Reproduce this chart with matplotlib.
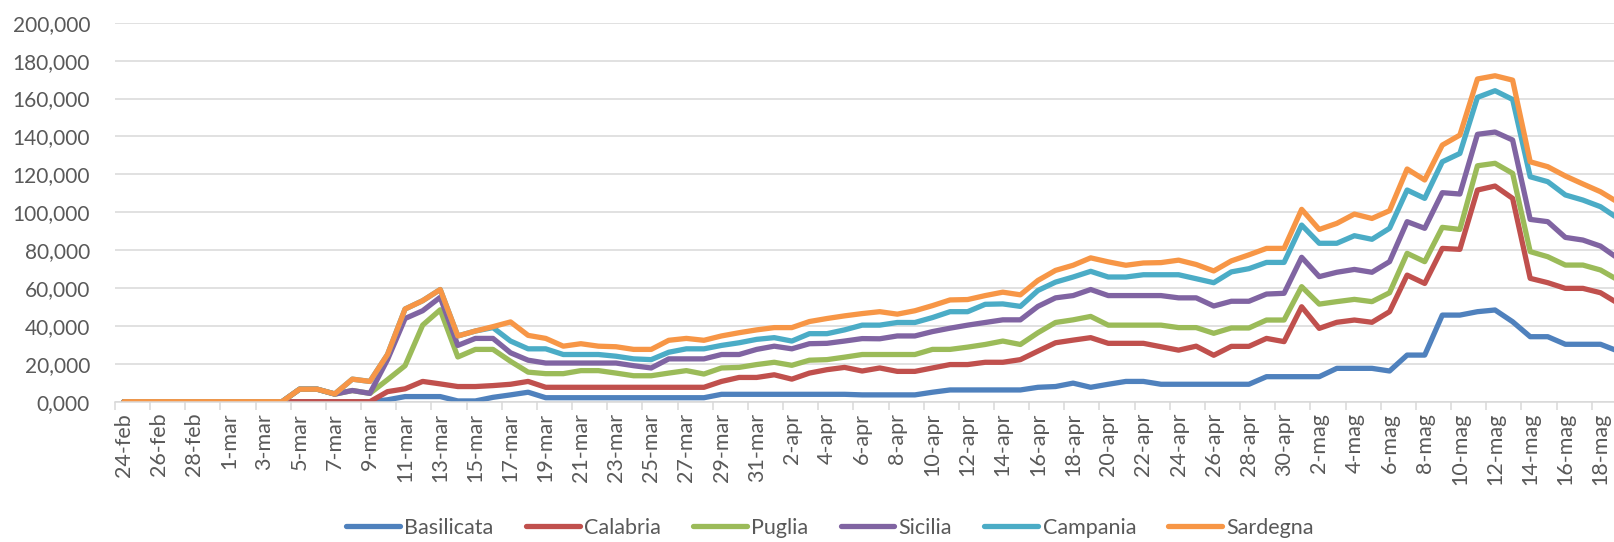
import numpy as np
import pandas as pd
import matplotlib
matplotlib.use("Agg")
import matplotlib.pyplot as plt

# ==========================
# Dati (valori per regione, grafico a linee in pila)
# ==========================
mesi = {2: "feb", 3: "mar", 4: "apr", 5: "mag"}
giorni = pd.date_range("2020-02-24", "2020-05-19", freq="D")
date_labels = [f"{d.day}-{mesi[d.month]}" for d in giorni]

regioni = ["Basilicata", "Calabria", "Puglia", "Sicilia", "Campania", "Sardegna"]
colori = ["#4F81BD", "#C0504D", "#9BBB59", "#8064A2", "#4BACC6", "#F79646"]

basilicata = [
    0, 0, 0, 0, 0, 0, 0, 0, 0, 0,
    0, 0, 0, 0, 0, 1.0, 2.7, 2.7, 2.7, 0.4,
    0.4, 2.3, 3.6, 5.0, 2.1, 2.1, 2.1, 2.1, 2.1, 2.1,
    2.1, 2.1, 2.1, 2.1, 3.9, 3.9, 3.9, 3.9, 3.9, 3.9,
    3.9, 3.9, 3.6, 3.6, 3.6, 3.6, 5.0, 6.2, 6.2, 6.2,
    6.2, 6.2, 7.6, 8.0, 9.8, 7.6, 9.2, 10.7, 10.7, 9.2,
    9.2, 9.2, 9.2, 9.2, 9.2, 13.2, 13.2, 13.2, 13.2, 17.6,
    17.6, 17.6, 16.2, 24.6, 24.6, 45.7, 45.7, 47.5, 48.4, 42.2,
    34.3, 34.3, 30.3, 30.3, 30.3, 26.7,
]

calabria = [
    0, 0, 0, 0, 0, 0, 0, 0, 0, 0,
    0, 0, 0, 0, 0, 4.3, 4.1, 8.0, 6.7, 7.6,
    7.6, 6.2, 5.6, 5.7, 5.5, 5.5, 5.5, 5.5, 5.5, 5.5,
    5.5, 5.5, 5.5, 5.5, 6.8, 8.9, 8.9, 10.3, 8.0, 11.2,
    13.0, 14.2, 12.6, 14.2, 12.4, 12.4, 12.8, 13.4, 13.4, 14.6,
    14.6, 16.0, 19.1, 23.1, 22.7, 26.2, 21.6, 20.1, 20.1, 19.8,
    18.0, 20.1, 15.3, 20.0, 20.0, 20.2, 18.5, 36.9, 25.5, 24.3,
    25.5, 24.3, 31.3, 42.2, 37.8, 35.2, 34.7, 64.2, 65.4, 65.1,
    30.8, 28.5, 29.5, 29.5, 27.2, 25.2,
]

puglia = [
    0, 0, 0, 0, 0, 0, 0, 0, 0, 0,
    6.6, 6.6, 4.0, 5.9, 4.4, 6.3, 12.2, 29.7, 39.1, 15.6,
    19.6, 19.1, 12.1, 4.9, 7.2, 7.2, 8.8, 8.8, 7.5, 6.1,
    6.1, 7.5, 8.8, 7.0, 7.1, 5.3, 6.8, 6.6, 7.3, 6.8,
    5.3, 5.4, 8.7, 7.1, 8.9, 8.9, 9.8, 8.0, 9.2, 9.4,
    11.2, 8.0, 9.7, 10.7, 10.7, 11.2, 9.6, 9.6, 9.6, 11.4,
    11.9, 9.8, 11.6, 9.7, 9.7, 9.7, 11.4, 10.6, 12.8, 10.9,
    10.9, 10.9, 10.0, 11.5, 11.5, 11.1, 10.5, 12.8, 12.0, 13.2,
    14.1, 13.7, 12.3, 12.3, 12.0, 12.3,
]

sicilia = [
    0, 0, 0, 0, 0, 0, 0, 0, 0, 0,
    0, 0, 0, 0, 0, 10.6, 24.9, 7.6, 6.6, 6.1,
    5.8, 5.8, 4.5, 6.3, 5.6, 5.6, 4.0, 4.0, 5.3, 5.3,
    4.1, 7.5, 6.2, 8.0, 7.1, 6.8, 8.0, 8.5, 8.7, 8.7,
    8.6, 8.5, 8.4, 8.3, 9.8, 9.8, 9.4, 11.2, 11.6, 11.6,
    11.2, 13.0, 13.9, 13.0, 12.8, 14.2, 15.6, 15.6, 15.6, 15.6,
    15.7, 15.7, 14.4, 14.1, 14.1, 13.7, 14.1, 15.5, 14.5, 15.5,
    15.8, 15.5, 16.4, 16.7, 17.6, 18.3, 18.7, 16.6, 16.5, 17.6,
    17.0, 18.5, 14.6, 13.2, 12.6, 11.4,
]

campania = [
    0, 0, 0, 0, 0, 0, 0, 0, 0, 0,
    0, 0, 0.1, 6.0, 6.3, 2.7, 5.0, 5.3, 4.1, 5.0,
    3.9, 5.7, 6.2, 6.0, 7.5, 4.5, 4.5, 4.5, 3.6, 3.6,
    4.4, 3.5, 5.3, 5.3, 4.8, 6.2, 5.3, 4.5, 4.1, 5.3,
    5.1, 5.9, 7.1, 7.2, 7.1, 7.1, 7.4, 8.7, 7.1, 9.6,
    8.4, 7.1, 8.4, 8.3, 9.8, 9.6, 9.8, 9.8, 11.0, 11.0,
    12.2, 10.1, 12.3, 15.5, 17.2, 16.7, 16.3, 17.0, 17.6, 15.3,
    17.8, 17.4, 17.6, 16.7, 15.8, 16.3, 21.4, 19.5, 21.8, 21.4,
    22.5, 21.1, 22.4, 21.1, 20.8, 21.1,
]

sardegna = [
    0, 0, 0, 0, 0, 0, 0, 0, 0, 0,
    0, 0, 0, 0, 0, 0, 0, 0, 0, 0,
    0, 0.5, 10.1, 7.1, 5.5, 4.4, 5.7, 4.4, 5.0, 5.0,
    5.4, 6.3, 5.5, 4.5, 5.0, 5.3, 5.0, 5.3, 7.1, 6.4,
    8.0, 7.4, 6.1, 7.1, 4.4, 6.2, 6.3, 6.2, 6.4, 4.6,
    6.2, 6.1, 5.3, 6.2, 6.2, 7.1, 8.0, 6.2, 6.2, 6.4,
    7.7, 7.5, 6.2, 5.8, 7.3, 7.4, 7.4, 8.3, 7.3, 10.5,
    11.4, 11.0, 9.3, 11.1, 9.7, 8.8, 9.7, 9.7, 7.9, 10.2,
    7.9, 7.9, 10.0, 8.5, 7.9, 8.5,
]

serie = [basilicata, calabria, puglia, sicilia, campania, sardegna]
cumulato = np.cumsum(np.array(serie), axis=0)

# ==========================
# Grafico
# ==========================
plt.rcParams["font.family"] = ["Lato", "DejaVu Sans"]

W, H = 1614, 542
fig = plt.figure(figsize=(W / 100, H / 100), dpi=100)
n = len(date_labels)
larg_cat = 17.58
left = 115
right = left + n * larg_cat
ax = fig.add_axes([left / W, 1 - 401.7 / H, (right - left) / W, (401.7 - 22.7) / H])

x = np.arange(n)
for nome, col, y in zip(regioni, colori, cumulato):
    ax.plot(x, y, color=col, linewidth=3.8, label=nome,
            solid_joinstyle="round", solid_capstyle="round")

ax.set_xlim(-0.5, n - 0.5)
ax.set_ylim(0, 200)
ax.set_yticks(np.arange(0, 201, 20))
ax.set_yticklabels([f"{v:,.3f}".replace(".", ",") for v in np.arange(0, 201, 20)])

ax.set_xticks(x[::2])
ax.set_xticklabels(date_labels[::2], rotation=90)
ax.set_xticks(np.arange(-0.5, n, 2), minor=True)

ax.grid(axis="y", color="#D9D9D9", linewidth=1.1)
ax.set_axisbelow(True)
for s in ["top", "right", "left"]:
    ax.spines[s].set_visible(False)
ax.spines["bottom"].set_color("#D9D9D9")
ax.spines["bottom"].set_linewidth(1.1)

ax.tick_params(axis="y", length=0, pad=18, labelsize=15, labelcolor="#595959")
ax.tick_params(axis="x", which="major", length=0, pad=8, labelsize=15.5, labelcolor="#595959")
ax.tick_params(axis="x", which="minor", length=6, width=1.1, color="#D9D9D9")

fig.legend(loc="center", bbox_to_anchor=(830 / W, 1 - 528 / H), ncol=6, frameon=False,
           fontsize=15.5, labelcolor="#595959", handlelength=2.5, handletextpad=0.2,
           columnspacing=1.5)

fig.savefig("out.png", dpi=100)
